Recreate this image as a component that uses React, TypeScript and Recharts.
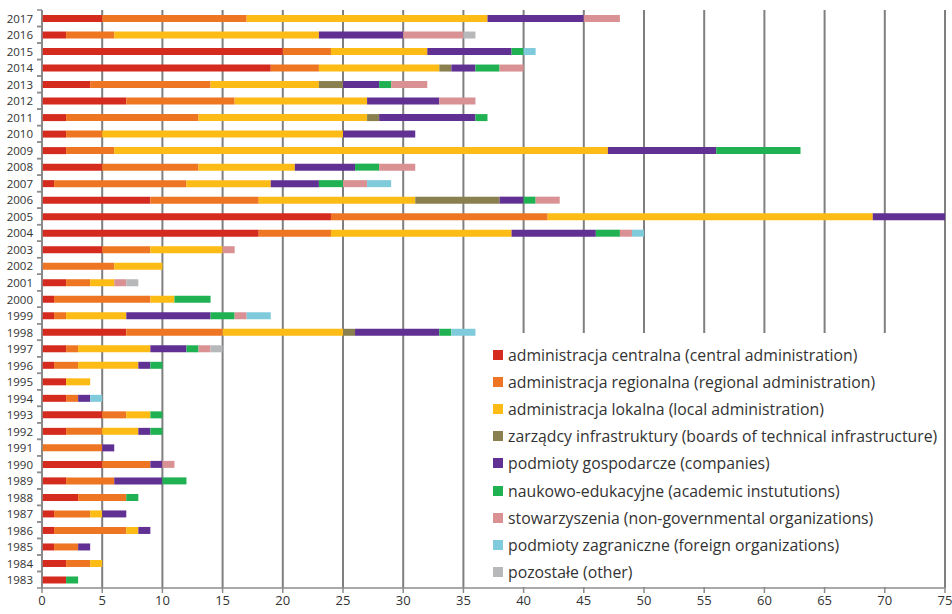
import { Bar, BarChart, CartesianGrid, Legend, XAxis, YAxis } from "recharts";

const years = [
  "1983", "1984", "1985", "1986", "1987", "1988", "1989", "1990", "1991", "1992",
  "1993", "1994", "1995", "1996", "1997", "1998", "1999", "2000", "2001", "2002",
  "2003", "2004", "2005", "2006", "2007", "2008", "2009", "2010", "2011", "2012",
  "2013", "2014", "2015", "2016", "2017",
];

const central = [2, 2, 1, 1, 1, 3, 2, 5, 0, 2, 5, 2, 2, 1, 2, 7, 1, 1, 2, 0, 5, 18, 24, 9, 1, 5, 2, 2, 2, 7, 4, 19, 20, 2, 5];
const regional = [0, 2, 2, 6, 3, 4, 4, 4, 5, 3, 2, 1, 0, 2, 1, 8, 1, 8, 2, 6, 4, 6, 18, 9, 11, 8, 4, 3, 11, 9, 10, 4, 4, 4, 12];
const local = [0, 1, 0, 1, 1, 0, 0, 0, 0, 3, 2, 0, 2, 5, 6, 10, 5, 2, 2, 4, 6, 15, 27, 13, 7, 8, 41, 20, 14, 11, 9, 10, 8, 17, 20];
const infrastructure = [0, 0, 0, 0, 0, 0, 0, 0, 0, 0, 0, 0, 0, 0, 0, 1, 0, 0, 0, 0, 0, 0, 0, 7, 0, 0, 0, 0, 1, 0, 2, 1, 0, 0, 0];
const companies = [0, 0, 1, 1, 2, 0, 4, 1, 1, 1, 0, 1, 0, 1, 3, 7, 7, 0, 0, 0, 0, 7, 6, 2, 4, 5, 9, 6, 8, 6, 3, 2, 7, 7, 8];
const academic = [1, 0, 0, 0, 0, 1, 2, 0, 0, 1, 1, 0, 0, 1, 1, 1, 2, 3, 0, 0, 0, 2, 0, 1, 2, 2, 7, 0, 1, 0, 1, 2, 1, 0, 0];
const ngo = [0, 0, 0, 0, 0, 0, 0, 1, 0, 0, 0, 0, 0, 0, 1, 0, 1, 0, 1, 0, 1, 1, 0, 2, 2, 3, 0, 0, 0, 3, 3, 2, 0, 5, 3];
const foreign = [0, 0, 0, 0, 0, 0, 0, 0, 0, 0, 0, 1, 0, 0, 0, 2, 2, 0, 0, 0, 0, 1, 0, 0, 2, 0, 0, 0, 0, 0, 0, 0, 1, 0, 0];
const other = [0, 0, 0, 0, 0, 0, 0, 0, 0, 0, 0, 0, 0, 0, 1, 0, 0, 0, 1, 0, 0, 0, 0, 0, 0, 0, 0, 0, 0, 0, 0, 0, 0, 1, 0];

const xTicks = [0, 5, 10, 15, 20, 25, 30, 35, 40, 45, 50, 55, 60, 65, 70, 75];

const series = [
  { key: "central", values: central, color: "#d52b1e", label: "administracja centralna (central administration)" },
  { key: "regional", values: regional, color: "#ee7623", label: "administracja regionalna (regional administration)" },
  { key: "local", values: local, color: "#fdbb15", label: "administracja lokalna (local administration)" },
  { key: "infrastructure", values: infrastructure, color: "#8a804f", label: "zarządcy infrastruktury (boards of technical infrastructure)" },
  { key: "companies", values: companies, color: "#603093", label: "podmioty gospodarcze (companies)" },
  { key: "academic", values: academic, color: "#20b152", label: "naukowo-edukacyjne (academic instututions)" },
  { key: "ngo", values: ngo, color: "#d99193", label: "stowarzyszenia (non-governmental organizations)" },
  { key: "foreign", values: foreign, color: "#80cbdb", label: "podmioty zagraniczne (foreign organizations)" },
  { key: "other", values: other, color: "#b6b8b9", label: "pozostałe (other)" },
];

const data = years.map((year, i) => {
  const row: Record<string, string | number> = { year };
  series.forEach((s) => {
    row[s.key] = s.values[i];
  });
  return row;
});

const AXIS = "#8c8c8c";
const TEXT = "#333";
const TICK_SIZE = 0;
const TICK_MARGIN = 8;

function YearTick(props: any) {
  const { x, y, payload } = props;
  const axisX = x + TICK_SIZE + TICK_MARGIN;
  const half = payload.offset ?? 0;
  return (
    <g>
      <line x1={axisX - 5} x2={axisX} y1={y - half} y2={y - half} stroke={AXIS} strokeWidth={1.5} />
      <line x1={axisX - 5} x2={axisX} y1={y + half} y2={y + half} stroke={AXIS} strokeWidth={1.5} />
      <text x={x - 1} y={y} textAnchor="end" dominantBaseline="central" fontSize={11.5} fill={TEXT}>
        {payload.value}
      </text>
    </g>
  );
}

function LegendBox() {
  return (
    <div style={{ background: "#fff", width: "100%", height: "100%", boxSizing: "border-box", paddingTop: 8, paddingLeft: 8 }}>
      {series.map((s) => (
        <div key={s.key} style={{ display: "flex", alignItems: "center", height: 27.2, fontSize: 15.8, color: TEXT, whiteSpace: "nowrap" }}>
          <span style={{ display: "inline-block", width: 10, height: 10, background: s.color, marginRight: 5 }} />
          {s.label}
        </div>
      ))}
    </div>
  );
}

export default function App() {
  return (
    <div style={{ position: "absolute", left: 0, top: 0, width: 952, height: 614, background: "#fff", fontFamily: "'Open Sans', sans-serif" }}>
      <BarChart
        width={952}
        height={614}
        data={data}
        layout="vertical"
        margin={{ top: 10, right: 7, bottom: 0, left: 0 }}
        barCategoryGap={0}
      >
        <CartesianGrid vertical horizontal={false} stroke="#7f7f7f" strokeWidth={2} verticalValues={xTicks} />
        <XAxis
          type="number"
          domain={[0, 75]}
          ticks={xTicks}
          interval={0}
          height={26}
          stroke={AXIS}
          strokeWidth={1.5}
          tickSize={5}
          tickMargin={3}
          tick={{ fill: TEXT, fontSize: 13 }}
        />
        <YAxis
          type="category"
          dataKey="year"
          reversed
          width={42}
          interval={0}
          stroke={AXIS}
          strokeWidth={1.5}
          tickLine={false}
          tickSize={TICK_SIZE}
          tickMargin={TICK_MARGIN}
          tick={<YearTick />}
        />
        {series.map((s) => (
          <Bar key={s.key} dataKey={s.key} name={s.label} stackId="a" fill={s.color} barSize={7} isAnimationActive={false} />
        ))}
        <Legend
          layout="vertical"
          align="center"
          verticalAlign="middle"
          content={<LegendBox />}
          wrapperStyle={{ left: 485, top: 333, width: 459, height: 254 }}
        />
      </BarChart>
    </div>
  );
}
